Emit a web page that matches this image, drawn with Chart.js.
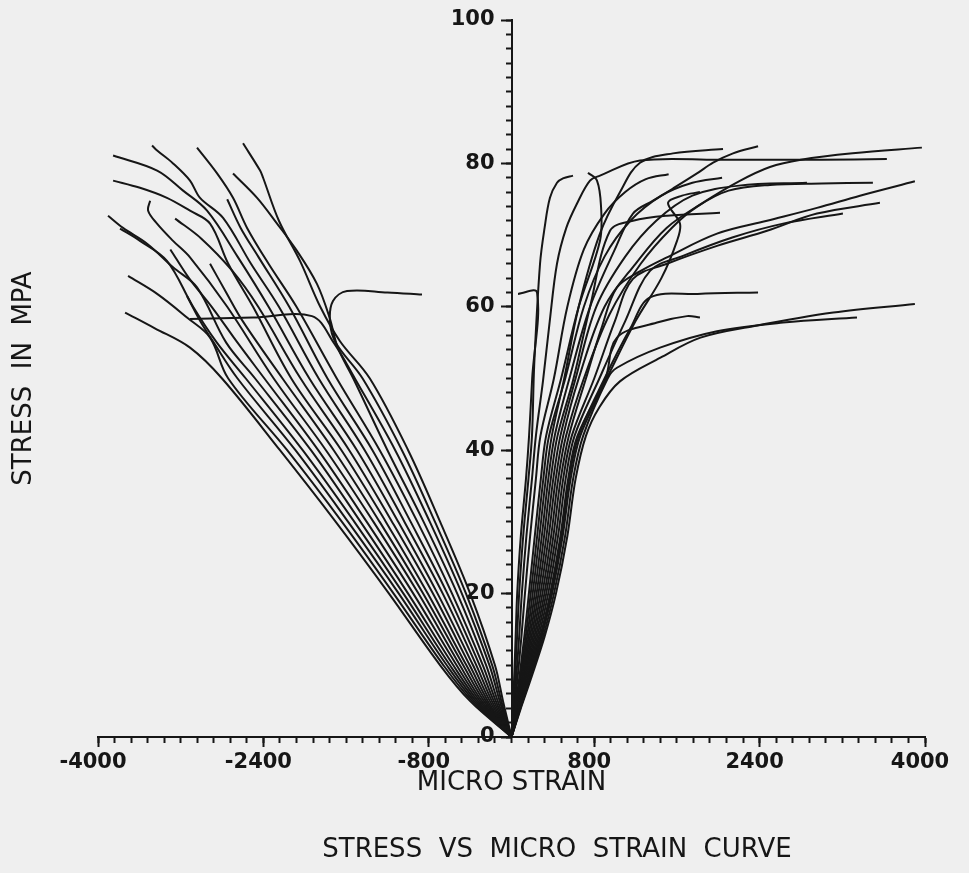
<!DOCTYPE html>
<html>
<head>
<meta charset="utf-8">
<script src="https://cdn.jsdelivr.net/npm/chart.js@4.4.0/dist/chart.umd.min.js"></script>
<style>
  html, body { margin: 0; padding: 0; background: #efefef; }
  #wrap { width: 969px; height: 873px; }
</style>
</head>
<body>
<div id="wrap"><canvas id="chart" width="969" height="873"></canvas></div>
<script>
// each curve: [micro strain, stress in MPa]
// compression side (negative strain)
const left01 = [[0,0],[-400,5],[-690,10],[-1185,20],[-1700,30],[-2240,40],[-2800,50],[-3110,54.3],[-3450,57],[-3738,59.2]];
const left02 = [[0,0],[-381,5],[-658,10],[-1140,20],[-1640,30],[-2170,40],[-2740,50],[-2916,55.7],[-3139,58.5],[-3428,61.8],[-3709,64.3]];
const left03 = [[0,0],[-362,5],[-626,10],[-1090,20],[-1580,30],[-2090,40],[-2650,50],[-2880,55],[-3010,58],[-3139,61.5]];
const left04 = [[0,0],[-343,5],[-595,10],[-1045,20],[-1520,30],[-2020,40],[-2570,50],[-2850,55],[-3080,60],[-3333,66.4],[-3594,69.2],[-3787,70.9]];
const left05 = [[0,0],[-324,5],[-563,10],[-1000,20],[-1460,30],[-1940,40],[-2480,50],[-2760,55],[-3042,62.7],[-3274,65.5],[-3525,68.8],[-3758,71],[-3903,72.7]];
const left06 = [[0,0],[-305,5],[-531,10],[-950,20],[-1400,30],[-1870,40],[-2390,50],[-2650,55],[-2900,60],[-3120,64],[-3300,68]];
const left07 = [[0,0],[-286,5],[-499,10],[-900,20],[-1335,30],[-1795,40],[-2300,50],[-2750,60],[-3110,66.9],[-3274,69.2],[-3429,71.6],[-3515,73.4],[-3496,74.8]];
const left08 = [[0,0],[-266,5],[-467,10],[-855,20],[-1275,30],[-1720,40],[-2215,50],[-2600,58],[-2760,62],[-2916,66]];
const left09 = [[0,0],[-247,5],[-436,10],[-810,20],[-1215,30],[-1645,40],[-2130,50],[-2500,60],[-2740,66],[-2916,71.6],[-3110,73.4],[-3333,75.2],[-3594,76.6],[-3854,77.6]];
const left10 = [[0,0],[-228,5],[-404,10],[-760,20],[-1155,30],[-1570,40],[-2040,50],[-2450,60],[-2700,65],[-3000,69.5],[-3254,72.3]];
const left11 = [[0,0],[-209,5],[-372,10],[-715,20],[-1095,30],[-1495,40],[-1955,50],[-2350,60],[-2650,67],[-2945,73.4],[-3177,76.2],[-3428,79],[-3854,81.1]];
const left12 = [[0,0],[-190,5],[-340,10],[-665,20],[-1035,30],[-1420,40],[-1865,50],[-2250,60],[-2520,66],[-2790,72.4],[-3013,75.2],[-3110,77.6],[-3274,80],[-3428,81.8],[-3477,82.5]];
const left13 = [[0,0],[-171,5],[-308,10],[-620,20],[-975,30],[-1345,40],[-1780,50],[-2150,60],[-2450,67],[-2620,71],[-2750,75]];
const left14 = [[0,0],[-152,5],[-277,10],[-575,20],[-910,30],[-1275,40],[-1690,50],[-2080,60],[-2350,66],[-2558,71],[-2694,75.2],[-2848,78.6],[-3042,82.2]];
const left15 = [[0,0],[-133,5],[-245,10],[-525,20],[-850,30],[-1200,40],[-1530,50],[-1680,54.3],[-1760,58.5],[-1882,63.2],[-2075,67.8],[-2268,71.6],[-2461,75.2],[-2694,78.6]];
const left16 = [[0,0],[-114,5],[-213,10],[-480,20],[-790,30],[-1125,40],[-1515,50],[-1720,55],[-1930,58.7],[-2500,58.5],[-3110,58.3]];
const left17 = [[0,0],[-98,5],[-187,10],[-440,20],[-740,30],[-1060,40],[-1440,50],[-1700,55],[-1756,57.9],[-1727,60.8],[-1591,62.2],[-1200,62],[-866,61.7]];
const left18 = [[0,0],[-82,5],[-160,10],[-400,20],[-690,30],[-1000,40],[-1370,50],[-1659,55.2],[-1850,60],[-2046,66.4],[-2250,72],[-2403,78],[-2432,79],[-2597,82.8]];

// tension side (positive strain)
const right01 = [[0,0],[12,4],[25,8],[40,14],[55,20],[90,28],[140,36],[170,42],[200,50],[247,62],[63,61.8]];
const right02 = [[0,0],[16,4],[33,8],[54,14],[74,20],[113,28],[164,36],[198,42],[220,52],[276,66],[320,71],[372,75.2],[440,77.3],[498,77.9],[595,78.3]];
const right03 = [[0,0],[21,4],[44,8],[74,14],[100,20],[144,28],[198,36],[236,42],[305,49.7],[370,58],[440,66],[530,71],[634,74.4],[759,77.6],[856,78.3],[1243,80.4],[2000,80.5],[3000,80.5],[3631,80.6]];
const right04 = [[0,0],[28,4],[57,8],[96,14],[130,20],[180,28],[236,36],[280,42],[410,50],[540,60],[700,68],[900,73],[1100,76],[1300,77.8],[1520,78.5]];
const right05 = [[0,0],[35,4],[73,8],[124,14],[168,20],[225,28],[284,36],[335,42],[480,50],[650,60],[856,69.2],[866,74],[827,77.6],[740,78.7]];
const right06 = [[0,0],[39,4],[81,8],[138,14],[186,20],[248,28],[308,36],[363,42],[520,50],[700,60],[900,67],[1150,72],[1450,75.5],[1750,77.3],[2037,78]];
const right07 = [[0,0],[43,4],[89,8],[152,14],[205,20],[270,28],[332,36],[390,42],[510,50],[650,60],[850,70],[1050,76],[1243,80.1],[1562,81.4],[2046,82]];
const right08 = [[0,0],[47,4],[97,8],[166,14],[224,20],[293,28],[356,36],[418,42],[560,50],[760,60],[1000,68],[1175,73],[1369,74.8],[1562,76.5],[1794,78.6],[1950,80.1],[2143,81.4],[2385,82.4]];
const right09 = [[0,0],[51,4],[105,8],[180,14],[243,20],[315,28],[380,36],[445,42],[600,50],[760,60],[953,70.6],[1175,72],[1504,72.7],[2017,73.1]];
const right10 = [[0,0],[55,4],[113,8],[194,14],[261,20],[338,28],[404,36],[473,42],[620,50],[820,60],[1100,67],[1400,72],[1750,75.5],[2200,76.9],[2858,77.3]];
const right11 = [[0,0],[59,4],[121,8],[208,14],[280,20],[360,28],[428,36],[500,42],[650,50],[900,60],[1200,66],[1500,71],[1850,74.5],[2200,77.5],[2500,79.5],[2800,80.5],[3300,81.4],[3970,82.2]];
const right12 = [[0,0],[63,4],[129,8],[222,14],[299,20],[383,28],[452,36],[528,42],[700,50],[950,59],[1250,66],[1550,71],[1800,74],[2100,76.2],[2500,77],[3000,77.2],[3496,77.3]];
const right13 = [[0,0],[67,4],[137,8],[236,14],[318,20],[405,28],[476,36],[555,42],[720,50],[870,57],[1020,62.7],[1250,65],[1504,66.9],[1988,70.2],[2472,72],[2955,73.8],[3371,75.5],[3902,77.5]];
const right14 = [[0,0],[71,4],[145,8],[250,14],[336,20],[428,28],[500,36],[583,42],[800,50],[1000,58],[1175,63.9],[1504,66],[1988,68.5],[2472,70.6],[2955,73],[3564,74.5]];
const right15 = [[0,0],[74,4],[153,8],[264,14],[355,20],[450,28],[524,36],[610,42],[850,50],[1100,58],[1340,65],[1659,67.1],[2143,69.7],[2627,71.6],[3206,73]];
const right16 = [[0,0],[78,4],[161,8],[278,14],[374,20],[473,28],[548,36],[638,42],[920,50],[1200,58],[1450,64],[1601,69.2],[1630,71.6],[1514,74.5],[1650,75.5],[1823,76]];
const right17 = [[0,0],[80,4],[164,8],[284,14],[381,20],[482,28],[558,36],[649,42],[900,50],[1150,57],[1340,61.3],[1800,61.8],[2385,62]];
const right18 = [[0,0],[82,4],[169,8],[292,14],[393,20],[495,28],[572,36],[665,42],[910,50],[1020,55.7],[1408,57.8],[1698,58.7],[1823,58.5]];
const right19 = [[0,0],[86,4],[177,8],[306,14],[411,20],[518,28],[596,36],[693,42],[930,50],[1020,51.5],[1437,54.3],[1988,56.6],[2627,57.8],[3342,58.5]];
const right20 = [[0,0],[90,4],[185,8],[320,14],[430,20],[540,28],[620,36],[720,42],[850,46],[1049,49.6],[1441,52.9],[1828,55.7],[2339,57.3],[3113,59.2],[3902,60.4]];

const leftCurves = [left01, left02, left03, left04, left05, left06, left07, left08, left09,
  left10, left11, left12, left13, left14, left15, left16, left17, left18];
const rightCurves = [right01, right02, right03, right04, right05, right06, right07, right08, right09, right10,
  right11, right12, right13, right14, right15, right16, right17, right18, right19, right20];

const xTicks = [-4000, -2400, -800, 800, 2400, 4000];
const yTicks = [0, 20, 40, 60, 80, 100];

const ink = '#161616';
const tickFont = { family: 'DejaVu Sans', size: 21, weight: 'bold', lineHeight: 1 };
const titleFont = { family: 'DejaVu Sans', size: 26, lineHeight: 1 };

const datasets = leftCurves.concat(rightCurves).map(pts => ({
  data: pts.map(([x, y]) => ({ x, y })),
  xAxisID: 'x',
  yAxisID: 'y',
  showLine: true,
  fill: false,
  borderColor: ink,
  borderWidth: 2,
  pointRadius: 0,
  tension: 0.35
}));

new Chart(document.getElementById('chart'), {
  type: 'scatter',
  data: { datasets },
  options: {
    responsive: false,
    animation: false,
    devicePixelRatio: 1,
    layout: { padding: { left: 0, right: 44, top: 20, bottom: 10 } },
    plugins: {
      legend: { display: false },
      tooltip: { enabled: false }
    },
    scales: {
      x: {
        type: 'linear',
        position: 'bottom',
        min: -4000,
        max: 4000,
        afterBuildTicks: axis => { axis.ticks = xTicks.map(v => ({ value: v })); },
        grid: { drawOnChartArea: false, tickLength: 10, tickWidth: 2, tickColor: ink },
        border: { color: ink, width: 2 },
        ticks: { color: ink, font: tickFont, padding: 5, labelOffset: -5, autoSkip: false, maxRotation: 0,
                 callback: v => String(v) },
        title: { display: true, text: 'MICRO STRAIN', color: ink, font: titleFont, padding: { top: -8, bottom: 0 } }
      },
      // minor ticks along the strain axis
      xMinor: {
        type: 'linear',
        axis: 'x',
        position: { y: 0 },
        min: -4000,
        max: 4000,
        ticks: { display: false, stepSize: 160 },
        grid: { drawOnChartArea: false, tickLength: 5, tickWidth: 2, tickColor: ink },
        border: { color: ink, width: 2 }
      },
      // caption under the axis title
      xCap: {
        type: 'linear',
        axis: 'x',
        position: 'bottom',
        weight: 1,
        min: -4000,
        max: 4000,
        grid: { display: false, drawTicks: false },
        border: { display: false },
        ticks: { display: false },
        title: { display: true, text: '           STRESS  VS  MICRO  STRAIN  CURVE', color: ink, font: titleFont, padding: { top: 41, bottom: 0 } }
      },
      y: {
        type: 'linear',
        position: 'center',
        min: 0,
        max: 100,
        afterBuildTicks: axis => { axis.ticks = yTicks.map(v => ({ value: v })); },
        grid: { drawOnChartArea: false, tickLength: 10, tickWidth: 2, tickColor: ink },
        border: { color: ink, width: 2 },
        ticks: { color: ink, font: tickFont, padding: 7, callback: v => String(v) }
      },
      yMinor: {
        type: 'linear',
        axis: 'y',
        position: 'center',
        min: 0,
        max: 100,
        ticks: { display: false, stepSize: 2 },
        grid: { drawOnChartArea: false, tickLength: 5, tickWidth: 2, tickColor: ink },
        border: { color: ink, width: 2 }
      },
      yTitle: {
        type: 'linear',
        axis: 'y',
        position: 'left',
        grid: { display: false, drawTicks: false },
        border: { display: false },
        ticks: { display: false },
        title: { display: true, text: 'STRESS  IN  MPA', color: ink, font: titleFont, padding: { top: 11, bottom: 61 } }
      }
    }
  }
});
</script>
</body>
</html>
